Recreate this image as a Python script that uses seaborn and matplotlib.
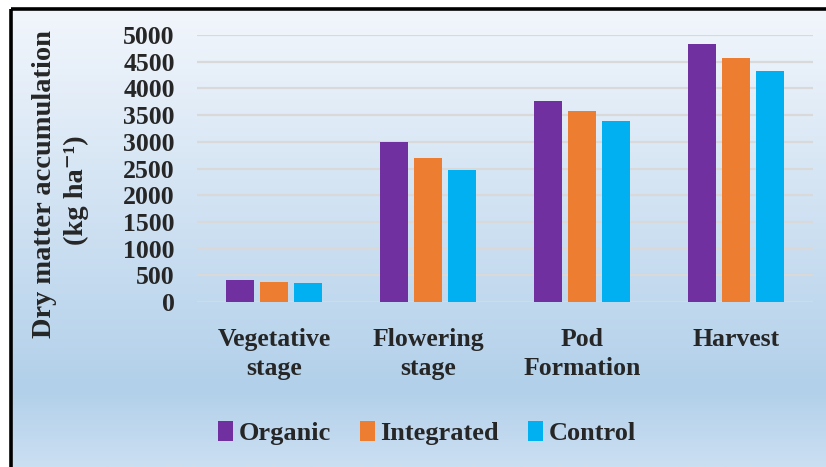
import numpy as np
import pandas as pd
import matplotlib
matplotlib.use("Agg")
import matplotlib.pyplot as plt
from matplotlib.patches import Rectangle, Patch
import seaborn as sns

stages = ["Vegetative\nstage", "Flowering\nstage", "Pod\nFormation", "Harvest"]
treatments = ["Organic", "Integrated", "Control"]
organic = [412, 2997, 3765, 4832]
integrated = [375, 2697, 3577, 4570]
control = [356, 2472, 3390, 4327]
colors = ["#7030a0", "#ed7d31", "#00b0f0"]
yticks = [0, 500, 1000, 1500, 2000, 2500, 3000, 3500, 4000, 4500, 5000]

rows = []
for t, vals in zip(treatments, [organic, integrated, control]):
    for s, v in zip(stages, vals):
        rows.append({"stage": s, "treatment": t, "value": v})
df = pd.DataFrame(rows)

sns.set_theme(style="white")
plt.rcParams["font.family"] = ["Liberation Serif", "DejaVu Serif"]
plt.rcParams["font.weight"] = "bold"

W, H = 826, 467
fig = plt.figure(figsize=(W / 100, H / 100), dpi=100)
fig.patch.set_facecolor("white")

# background gradient and frame
bg = fig.add_axes([0, 0, 1, 1], zorder=-5)
bg.set_xlim(0, W)
bg.set_ylim(H, 0)
bg.axis("off")
ys = np.arange(10, H + 1)
c_top = np.array([242, 246, 252])
c_mid = np.array([178, 208, 234])
c_bot = np.array([203, 223, 242])
grad = np.zeros((len(ys), 1, 3))
for i, y in enumerate(ys):
    if y <= 390:
        f = (y - 10) / 380
        grad[i, 0] = c_top + (c_mid - c_top) * f
    else:
        f = (y - 390) / (H - 390)
        grad[i, 0] = c_mid + (c_bot - c_mid) * f
grad /= 255.0
bg.imshow(grad, extent=(11, W + 2, H, 9), aspect="auto", interpolation="bilinear")
bg.add_patch(Rectangle((10.5, 8.5), W + 20, H + 20, fill=False,
                       edgecolor="black", linewidth=2.6))

ax = fig.add_axes([197 / W, 1 - 302 / H, (813 - 197) / W, (302 - 35) / H])
ax.set_facecolor("none")
sns.barplot(data=df, x="stage", y="value", hue="treatment", order=stages,
            hue_order=treatments, palette=colors, width=0.662, gap=0.2,
            saturation=1, ax=ax, legend=False, zorder=3, linewidth=0,
            edgecolor="none")
ax.set_ylim(0, 5000)
ax.set_xlim(-0.5, 3.5)
ax.set_yticks(yticks)
ax.set_yticklabels([str(v) for v in yticks], fontsize=18.5, fontweight="bold")
ax.yaxis.grid(True, color="#d9d9d9", linewidth=1.6, zorder=0)
ax.set_axisbelow(True)
ax.tick_params(axis="y", length=0, pad=16)
ax.tick_params(axis="x", length=0, pad=19)
for lab in ax.get_xticklabels():
    lab.set_fontsize(18.5)
    lab.set_fontweight("bold")
    lab.set_linespacing(1.3)
for sp in ax.spines.values():
    sp.set_visible(False)
ax.set_xlabel("")
ax.set_ylabel("")

fig.text(45 / W, 1 - 184 / H, "Dry matter accumulation", rotation=90,
         ha="center", va="center", fontsize=20.5, fontweight="bold")
fig.text(76 / W, 1 - 190 / H, "(kg ha\u207b\u00b9)", rotation=90,
         ha="center", va="center", fontsize=20.5, fontweight="bold")

handles = [Patch(facecolor=c, edgecolor="none") for c in colors]
leg = fig.legend(handles, treatments, loc="center", bbox_to_anchor=(427 / W, 1 - 433 / H),
                 ncol=3, frameon=False, prop={"size": 19, "weight": "bold"},
                 handlelength=0.58, handleheight=0.8, handletextpad=0.2,
                 columnspacing=1.1)

fig.savefig("out.png", dpi=100, facecolor=fig.get_facecolor())
